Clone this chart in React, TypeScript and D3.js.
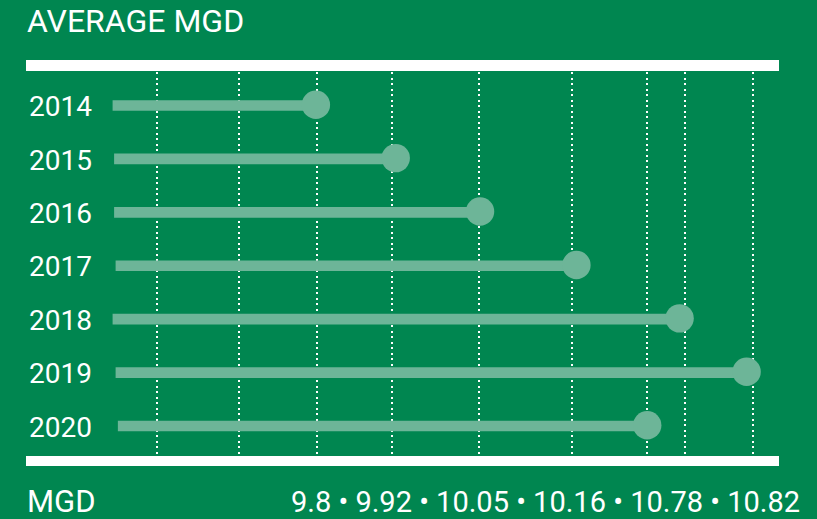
import React from "react";
import * as d3 from "d3";

// ---- data (horizontal positions as % of plot width) ----
const years = ["2014", "2015", "2016", "2017", "2018", "2019", "2020"];
const barEnds = [38.5, 49.1, 60.3, 73.1, 86.8, 95.7, 82.5];
const barStarts = [11.5, 11.7, 11.7, 11.9, 11.5, 11.9, 12.2];
const gridValues = [17.4, 28.3, 38.7, 48.6, 60.2, 72.5, 82.5, 87.5, 96.6];
const title = "AVERAGE MGD";
const axisTitle = "MGD";
const mgdValues = ["9.8", "9.92", "10.05", "10.16", "10.78", "10.82"];

const W = 817;
const H = 519;
const BG = "#008650";
const BAR = "#6db598";
const FONT = "Roboto, 'Noto Sans', sans-serif";

export default function App() {
  const left = 26;
  const right = 779;
  const topLineY = 60;
  const bottomLineY = 456;
  const lineH = 11;

  const x = d3.scaleLinear().domain([0, 100]).range([left, right]);
  const y = d3
    .scalePoint<string>()
    .domain(years)
    .range([105.5, 426]);

  return (
    <div style={{ position: "fixed", left: 0, top: 0, width: W, height: H }}>
      <svg width={W} height={H} style={{ display: "block" }}>
        <rect x={0} y={0} width={W} height={H} fill={BG} />
        <text
          x={27}
          y={32.3}
          fill="#fff"
          fontFamily={FONT}
          fontSize={32}
        >
          {title}
        </text>
        {/* gridlines */}
        {gridValues.map((g, i) => {
          const gx = Math.round(x(g));
          return (
            <line
              key={"g" + i}
              x1={gx}
              x2={gx}
              y1={topLineY + lineH + 1}
              y2={bottomLineY}
              stroke="#fff"
              strokeWidth={2.2}
              strokeDasharray="2.2 3.3"
              shapeRendering="crispEdges"
            />
          );
        })}
        {/* white frame lines */}
        <rect x={left} y={topLineY} width={right - left} height={lineH} fill="#fff" />
        <rect x={left} y={bottomLineY} width={right - left} height={10} fill="#fff" />
        {/* lollipops */}
        {years.map((yr, i) => {
          const cy = y(yr) as number;
          return (
            <g key={yr}>
              <text
                x={29}
                y={cy + 10.6}
                fill="#fff"
                fontFamily={FONT}
                fontSize={28}
              >
                {yr}
              </text>
              <line
                x1={x(barStarts[i])}
                x2={x(barEnds[i])}
                y1={cy}
                y2={cy}
                stroke={BAR}
                strokeWidth={10.7}
              />
              <circle cx={x(barEnds[i])} cy={cy - 0.8} r={14.2} fill={BAR} />
            </g>
          );
        })}
        <text x={27} y={512} fill="#fff" fontFamily={FONT} fontSize={31}>
          {axisTitle}
        </text>
        <text
          x={800}
          y={512}
          fill="#fff"
          fontFamily={FONT}
          fontSize={29}
          textAnchor="end"
        >
          {mgdValues.join(" \u2022 ")}
        </text>
      </svg>
    </div>
  );
}
